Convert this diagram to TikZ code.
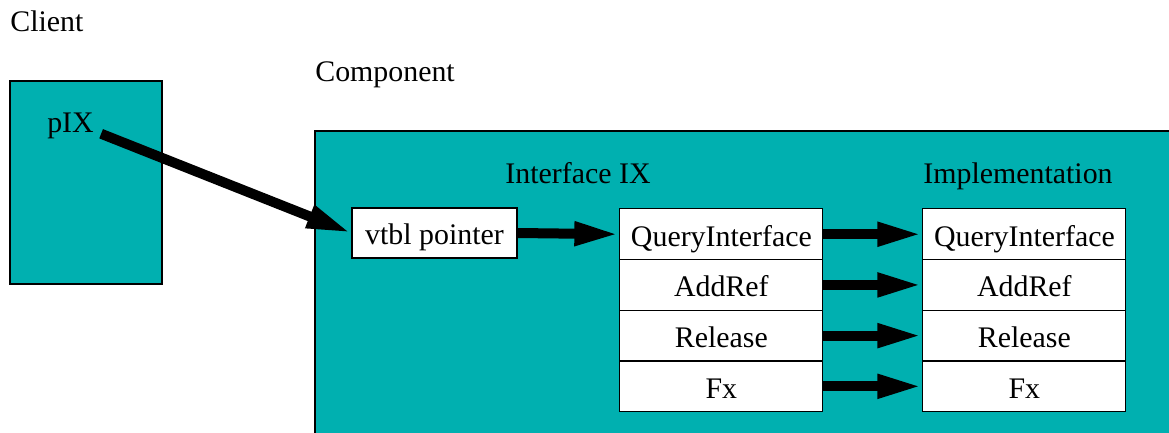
\documentclass[tikz,border=0pt]{standalone}
\usepackage{fontspec}
\setmainfont{Liberation Serif}
\usepackage{tikz}
\usetikzlibrary{positioning}
\usetikzlibrary{matrix}
\usetikzlibrary{arrows.meta}
\usepackage{xcolor}
\definecolor{comteal}{HTML}{00B0B0}
\tikzset{every picture/.style={font=\fontsize{17}{20}\selectfont}}
\tikzset{box/.style={draw, line width=0.6pt},
        cell text/.style={text height=13.6pt, text depth=0pt},
        vtable/.style={
          matrix of nodes,
          inner sep=0pt,
          row sep=-0.6pt,
          nodes={draw, line width=0.6pt, fill=white, cell text, anchor=center, minimum width=4.06cm, minimum height=1.014cm}
          },
        fat arrow/.style={line width=0.2cm, -{Triangle[length=0.9cm, width=0.44cm]}},
}

\begin{document}
\begin{tikzpicture}
      \useasboundingbox (0,0) rectangle (23.38,-8.66);
      % CLIENT
      \node[anchor=base west, inner sep=0pt] (clientlbl) at (0.2,-0.62) {Client};
      \node[box, fill=comteal, minimum width=3.04cm, minimum height=4.06cm] (client) at (1.72,-3.65) {};
      \node[anchor=base, inner sep=1pt] (pIX) at (1.41,-2.64) {pIX};

      % COMPONENT
      \node[anchor=base west, inner sep=0pt] (complbl) at (6.3,-1.62) {Component};
      \draw[box, fill=comteal] (6.3,-2.62) coordinate(comp) rectangle (23.7,-9.0);
      \node[anchor=base] (ifacelbl) at (11.56,-3.66) {Interface IX};
      \node[anchor=base] (impllbl) at (20.36,-3.66) {Implementation};

      \node[box, fill=white, cell text, minimum width=3.3cm, minimum height=1.0cm] (vtbl) at (8.69,-4.66) {vtbl pointer};

      \matrix[vtable, matrix anchor=north west] (iface) at (12.38,-4.16) {
        QueryInterface \\
        AddRef \\
        Release \\
        Fx \\
      };
      \matrix[vtable, matrix anchor=north west] (impl) at (18.44,-4.16) {
        QueryInterface \\
        AddRef \\
        Release \\
        Fx \\
      };

      % POINTERS
      \draw[fat arrow] ([xshift=3pt, yshift=-1pt]pIX.base east) -- (vtbl.west);
      \draw[fat arrow] (vtbl.east) -- (iface-1-1.west);
      \foreach \r in {1,...,4}
        \draw[fat arrow] (iface-\r-1.east) -- (impl-\r-1.west);
\end{tikzpicture}
\end{document}
